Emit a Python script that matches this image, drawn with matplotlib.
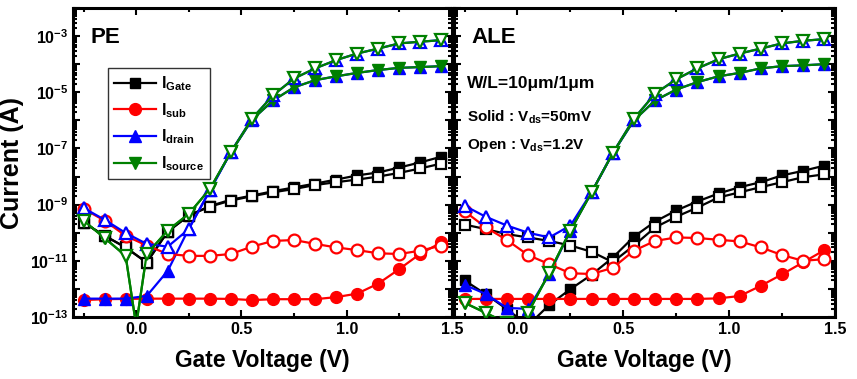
import math
import matplotlib
matplotlib.use("Agg")
import matplotlib.pyplot as plt
from matplotlib.ticker import FixedLocator, LogLocator, FuncFormatter, MultipleLocator, NullFormatter

plt.rcParams['font.family'] = ['Liberation Sans', 'DejaVu Sans']
plt.rcParams['font.weight'] = 'bold'
plt.rcParams['mathtext.fontset'] = 'custom'
plt.rcParams['mathtext.rm'] = 'Liberation Sans:bold'
plt.rcParams['mathtext.it'] = 'Liberation Sans:bold'
plt.rcParams['mathtext.bf'] = 'Liberation Sans:bold'

# gate voltage of the marked points
vg = [-0.25, -0.15, -0.05, 0.05, 0.15, 0.25, 0.35, 0.45, 0.55, 0.65,
      0.75, 0.85, 0.95, 1.05, 1.15, 1.25, 1.35, 1.45]
# source curves carry one extra point at 0.0 V (no marker)
vg_src = [-0.25, -0.15, -0.05, 0.0, 0.05, 0.15, 0.25, 0.35, 0.45, 0.55,
          0.65, 0.75, 0.85, 0.95, 1.05, 1.15, 1.25, 1.35, 1.45]

# ---- PE ----  (solid: Vds=50mV, open: Vds=1.2V)
pe_gate_solid = [2.3e-10, 7.8e-11, 3.0e-11, 8.7e-12, 1.1e-10, 4.1e-10, 8.9e-10, 1.5e-9, 2.1e-9,
                 3.0e-9, 4.1e-9, 5.6e-9, 7.8e-9, 1.1e-8, 1.4e-8, 2.1e-8, 3.2e-8, 5.1e-8]
pe_gate_open = [2.3e-10, 7.8e-11, 3.0e-11, 8.7e-12, 1.1e-10, 4.1e-10, 8.5e-10, 1.4e-9, 2.0e-9,
                2.75e-9, 3.6e-9, 5.0e-9, 6.3e-9, 7.8e-9, 1.0e-8, 1.35e-8, 1.95e-8, 2.9e-8]
pe_sub_solid = [4.0e-13, 4.3e-13, 4.4e-13, 4.5e-13, 4.5e-13, 4.5e-13, 4.5e-13, 4.4e-13, 4.0e-13,
                4.3e-13, 4.3e-13, 4.3e-13, 5.1e-13, 6.8e-13, 1.55e-12, 5.1e-12, 1.8e-11, 4.5e-11]
pe_sub_open = [7.1e-10, 2.7e-10, 7.8e-11, 3.5e-11, 1.75e-11, 1.5e-11, 1.5e-11, 1.75e-11, 3.2e-11,
               5.1e-11, 5.5e-11, 4.0e-11, 3.0e-11, 2.4e-11, 1.85e-11, 1.75e-11, 2.3e-11, 3.5e-11]
pe_drain_solid = [4.5e-13, 4.5e-13, 4.5e-13, 5.6e-13, 4.4e-12, 1.4e-10, 3.2e-9, 7.4e-8, 1.05e-6,
                  5.1e-6, 1.5e-5, 2.7e-5, 3.7e-5, 4.9e-5, 6.2e-5, 7.4e-5, 7.9e-5, 8.5e-5]
pe_drain_open = [7.6e-10, 2.9e-10, 9.8e-11, 4.0e-11, 3.2e-11, 1.35e-10, 3.2e-9, 7.6e-8, 1.15e-6,
                 7.8e-6, 3.1e-5, 7.1e-5, 1.4e-4, 2.4e-4, 3.6e-4, 5.5e-4, 6.3e-4, 7.2e-4]
pe_source_solid = [2.7e-10, 6.5e-11, 1.5e-11, 5e-14, 1.75e-11, 1.2e-10, 4.7e-10, 3.6e-9, 7.4e-8,
                   1.05e-6, 5.1e-6, 1.5e-5, 2.7e-5, 3.7e-5, 4.9e-5, 6.2e-5, 7.4e-5, 7.9e-5, 8.5e-5]
pe_source_open = [2.7e-10, 6.5e-11, 1.5e-11, 5e-14, 1.75e-11, 1.2e-10, 4.7e-10, 3.6e-9, 7.4e-8,
                  1.15e-6, 7.8e-6, 3.1e-5, 7.1e-5, 1.4e-4, 2.4e-4, 3.6e-4, 5.5e-4, 6.3e-4, 7.2e-4]

# ---- ALE ----
ale_gate_solid = [2.0e-12, 6.5e-13, 1.9e-13, 5e-14, 2.7e-13, 9.8e-13, 3.2e-12, 1.3e-11, 7.2e-11,
                  2.5e-10, 6.2e-10, 1.3e-9, 2.5e-9, 4.2e-9, 6.3e-9, 1.1e-8, 1.6e-8, 2.45e-8]
ale_gate_open = [1.95e-10, 1.35e-10, 8.9e-11, 6.8e-11, 5.1e-11, 3.5e-11, 2.1e-11, 9.0e-12, 3.5e-11,
                 1.55e-10, 3.7e-10, 7.9e-10, 1.8e-9, 2.75e-9, 4.2e-9, 6.3e-9, 9.5e-9, 1.2e-8]
ale_sub_solid = [4.4e-13, 4.4e-13, 4.4e-13, 4.4e-13, 4.4e-13, 4.4e-13, 4.4e-13, 4.4e-13, 4.4e-13,
                 4.4e-13, 4.4e-13, 4.4e-13, 4.6e-13, 5.6e-13, 1.3e-12, 3.3e-12, 8.9e-12, 2.4e-11]
ale_sub_open = [5.8e-10, 1.55e-10, 5.5e-11, 1.6e-11, 7.6e-12, 3.6e-12, 3.4e-12, 5.6e-12, 2.3e-11,
                5.1e-11, 6.8e-11, 6.5e-11, 5.6e-11, 4.9e-11, 3.0e-11, 1.6e-11, 1.0e-11, 1.15e-11]
ale_drain_solid = [1.4e-12, 6.6e-13, 2.1e-13, 1.95e-13, 3.3e-12, 1.2e-10, 2.75e-9, 6.8e-8, 1.0e-6,
                   5.1e-6, 1.25e-5, 2.3e-5, 3.7e-5, 4.9e-5, 7.1e-5, 8.5e-5, 9.1e-5, 1.0e-4]
ale_drain_open = [9.1e-10, 3.7e-10, 1.8e-10, 1.0e-10, 6.8e-11, 1.8e-10, 2.75e-9, 6.8e-8, 1.15e-6,
                  8.9e-6, 2.9e-5, 7.1e-5, 1.5e-4, 2.4e-4, 3.6e-4, 5.5e-4, 6.8e-4, 7.8e-4]
ale_source_solid = [3.2e-13, 1.4e-13, 6e-14, 4e-14, 1.4e-13, 3.8e-12, 1.2e-10, 2.75e-9, 6.8e-8,
                    1.0e-6, 5.1e-6, 1.25e-5, 2.3e-5, 3.7e-5, 4.9e-5, 7.1e-5, 8.5e-5, 9.1e-5, 1.0e-4]
ale_source_open = [3.2e-13, 1.4e-13, 6e-14, 4e-14, 1.4e-13, 3.8e-12, 1.2e-10, 2.75e-9, 6.8e-8,
                   1.15e-6, 8.9e-6, 2.9e-5, 7.1e-5, 1.5e-4, 2.4e-4, 3.6e-4, 5.5e-4, 6.8e-4, 7.8e-4]

labels = [r'I$_{\mathrm{Gate}}$', r'I$_{\mathrm{sub}}$', r'I$_{\mathrm{drain}}$', r'I$_{\mathrm{source}}$']
colors = ['black', 'red', 'blue', 'green']
markers = ['s', 'o', '^', 'v']
sizes = [7, 8.5, 9, 9]
src_marks = [i for i in range(len(vg_src)) if i != 3]

panels = [
    ("PE", [pe_gate_solid, pe_sub_solid, pe_drain_solid, pe_source_solid],
     [pe_gate_open, pe_sub_open, pe_drain_open, pe_source_open]),
    ("ALE", [ale_gate_solid, ale_sub_solid, ale_drain_solid, ale_source_solid],
     [ale_gate_open, ale_sub_open, ale_drain_open, ale_source_open]),
]

fig = plt.figure(figsize=(8.57, 3.79), dpi=100)
ax1 = fig.add_axes([73 / 857, 1 - 317 / 379, 379 / 857, 309 / 379])
ax2 = fig.add_axes([454 / 857, 1 - 317 / 379, 381 / 857, 309 / 379])


def exp_label(y, pos):
    e = int(round(math.log10(y)))
    if e % 2 == 0:
        return ''
    return r'$10^{%d}$' % e


for ax, (name, solid, opened) in zip([ax1, ax2], panels):
    handles = []
    for k in range(4):
        xs = vg_src if k == 3 else vg
        me = src_marks if k == 3 else None
        h, = ax.plot(xs, solid[k], color=colors[k], marker=markers[k], ms=sizes[k],
                     lw=1.6, markevery=me, label=labels[k], zorder=2 + k * 0.1)
        handles.append(h)
    for k in range(4):
        xs = vg_src if k == 3 else vg
        me = src_marks if k == 3 else None
        ax.plot(xs, opened[k], color=colors[k], marker=markers[k], ms=sizes[k],
                mfc='white', mec=colors[k], mew=1.6, lw=1.6, markevery=me, zorder=3 + k * 0.1)

    ax.set_yscale('log')
    ax.set_xlim(-0.3, 1.5)
    ax.set_ylim(1e-13, 1e-2)
    ax.xaxis.set_major_locator(MultipleLocator(0.5))
    ax.xaxis.set_minor_locator(MultipleLocator(0.25))
    ax.xaxis.set_major_formatter(FuncFormatter(lambda v, p: '%.1f' % v))
    ax.yaxis.set_major_locator(FixedLocator([10.0 ** e for e in range(-13, -1)]))
    ax.yaxis.set_minor_locator(LogLocator(base=10, subs=range(2, 10), numticks=30))
    ax.yaxis.set_minor_formatter(NullFormatter())
    ax.tick_params(which='both', direction='in', top=True, right=True, width=1.5)
    ax.tick_params(which='major', length=5, labelsize=11.5)
    ax.tick_params(which='minor', length=3)
    for s in ax.spines.values():
        s.set_linewidth(2.2)
    ax.text(0.045, 0.905, name, transform=ax.transAxes, fontsize=16, fontweight='bold',
            va='center', ha='left')
    ax.set_xlabel('Gate Voltage (V)', fontsize=16.5, fontweight='bold', labelpad=9)
    if ax is ax1:
        ax.yaxis.set_major_formatter(FuncFormatter(exp_label))
        ax.set_ylabel('Current (A)', fontsize=18, fontweight='bold', labelpad=4)
        leg = ax.legend(handles=handles, loc='upper left', bbox_to_anchor=(0.092, 0.806),
                        borderaxespad=0, fancybox=False, edgecolor='black', fontsize=11.5,
                        handlelength=2.6, labelspacing=0.5, borderpad=0.4, handletextpad=0.3)
        leg.get_frame().set_linewidth(1.0)
    else:
        ax.yaxis.set_major_formatter(NullFormatter())

ax2.text(0.035, 0.755, u'W/L=10\u03bcm/1\u03bcm', transform=ax2.transAxes, fontsize=12.5,
         fontweight='bold', va='center', ha='left')
ax2.text(0.035, 0.645, r'Solid : V$_{\mathrm{ds}}$=50mV', transform=ax2.transAxes, fontsize=11,
         fontweight='bold', va='center', ha='left')
ax2.text(0.035, 0.555, r'Open : V$_{\mathrm{ds}}$=1.2V', transform=ax2.transAxes, fontsize=11,
         fontweight='bold', va='center', ha='left')

fig.savefig('out.png', dpi=100)
